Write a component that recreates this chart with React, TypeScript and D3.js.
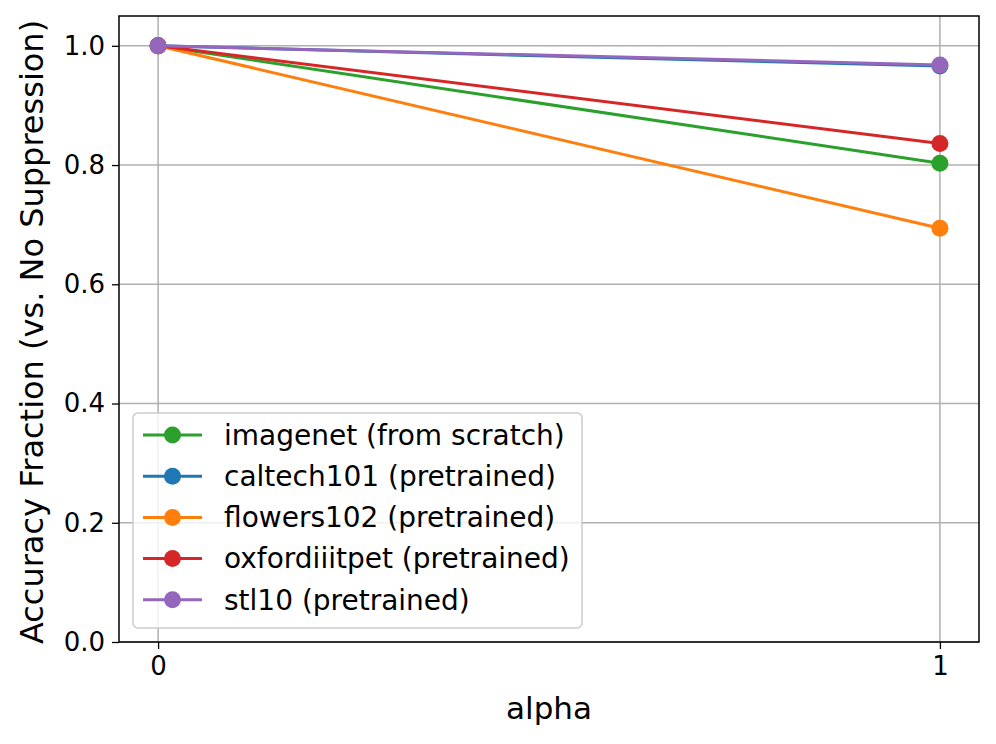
import * as d3 from "d3";
import { useEffect, useRef } from "react";

// alpha values on the x axis
const alphas = [0, 1];

const seriesNames = [
  "imagenet (from scratch)",
  "caltech101 (pretrained)",
  "flowers102 (pretrained)",
  "oxfordiiitpet (pretrained)",
  "stl10 (pretrained)",
];
const seriesColors = ["#2ca02c", "#1f77b4", "#ff7f0e", "#d62728", "#9467bd"];

// accuracy fraction at each alpha
const imagenetVals = [1.0, 0.803];
const caltechVals = [1.0, 0.966];
const flowersVals = [1.0, 0.694];
const oxfordVals = [1.0, 0.836];
const stlVals = [1.0, 0.968];

const yTicks = [0, 0.2, 0.4, 0.6, 0.8, 1.0];

export default function App() {
  const ref = useRef<SVGSVGElement>(null);

  useEffect(() => {
    const svg = d3.select(ref.current);
    svg.selectAll("*").remove();

    const margin = { top: 16, right: 17, bottom: 102, left: 119 };
    const W = 996, H = 744;
    const width = W - margin.left - margin.right;
    const height = H - margin.top - margin.bottom;
    const font = "DejaVu Sans, sans-serif";

    const series = [imagenetVals, caltechVals, flowersVals, oxfordVals, stlVals].map((vals, i) => ({
      name: seriesNames[i],
      color: seriesColors[i],
      values: vals,
    }));

    const x = d3.scaleLinear().domain([-0.05, 1.05]).range([0, width]);
    const y = d3.scaleLinear().domain([0, 1.05]).range([height, 0]);

    const g = svg.append("g").attr("transform", `translate(${margin.left},${margin.top})`);

    // grid
    g.append("g").selectAll("line").data(alphas).enter().append("line")
      .attr("x1", d => x(d)).attr("x2", d => x(d))
      .attr("y1", 0).attr("y2", height)
      .attr("stroke", "#b0b0b0").attr("stroke-width", 1.5);
    g.append("g").selectAll("line").data(yTicks).enter().append("line")
      .attr("x1", 0).attr("x2", width)
      .attr("y1", d => y(d)).attr("y2", d => y(d))
      .attr("stroke", "#b0b0b0").attr("stroke-width", 1.5);

    // axes
    const xAxis = g.append("g")
      .attr("transform", `translate(0,${height})`)
      .call(d3.axisBottom(x).tickValues(alphas).tickFormat(d3.format("d")).tickSize(7).tickPadding(8));
    const yAxis = g.append("g")
      .call(d3.axisLeft(y).tickValues(yTicks).tickFormat(d3.format(".1f")).tickSize(7).tickPadding(7));
    [xAxis, yAxis].forEach(a => {
      a.select(".domain").remove();
      a.selectAll(".tick line").attr("stroke", "#000").attr("stroke-width", 1.3);
      a.selectAll(".tick text").attr("fill", "#000").style("font-family", font).style("font-size", "26px");
    });

    const line = d3.line<number>().x((_, i) => x(alphas[i])).y(d => y(d));

    series.forEach(s => {
      g.append("path")
        .datum(s.values)
        .attr("d", line)
        .attr("fill", "none")
        .attr("stroke", s.color)
        .attr("stroke-width", 3);
      g.selectAll(null).data(s.values).enter().append("circle")
        .attr("cx", (_, i) => x(alphas[i]))
        .attr("cy", d => y(d))
        .attr("r", 8.5)
        .attr("fill", s.color);
    });

    // frame
    g.append("rect")
      .attr("width", width).attr("height", height)
      .attr("fill", "none").attr("stroke", "#000").attr("stroke-width", 1.5);

    // legend
    const lg = g.append("g").attr("transform", `translate(${133 - margin.left},${413 - margin.top})`);
    lg.append("rect")
      .attr("width", 449).attr("height", 215)
      .attr("rx", 5)
      .attr("fill", "#fff").attr("fill-opacity", 0.8)
      .attr("stroke", "#cccccc").attr("stroke-width", 1.5);
    series.forEach((s, i) => {
      const cy = 22 + i * 41.2;
      lg.append("line")
        .attr("x1", 10).attr("x2", 69).attr("y1", cy).attr("y2", cy)
        .attr("stroke", s.color).attr("stroke-width", 3);
      lg.append("circle").attr("cx", 39.5).attr("cy", cy).attr("r", 8.5).attr("fill", s.color);
      lg.append("text")
        .attr("x", 91).attr("y", cy).attr("dy", "0.35em")
        .style("font-family", font).style("font-size", "28px")
        .text(s.name);
    });

    // axis labels
    svg.append("text")
      .attr("x", margin.left + width / 2).attr("y", 719)
      .attr("text-anchor", "middle")
      .style("font-family", font).style("font-size", "31px")
      .text("alpha");
    svg.append("text")
      .attr("transform", `translate(43,${margin.top + height / 2 + 3}) rotate(-90)`)
      .attr("text-anchor", "middle")
      .style("font-family", font).style("font-size", "32px")
      .text("Accuracy Fraction (vs. No Suppression)");
  }, []);

  return <svg ref={ref} width={996} height={744} style={{ display: "block", position: "absolute", left: 0, top: 0 }} />;
}
